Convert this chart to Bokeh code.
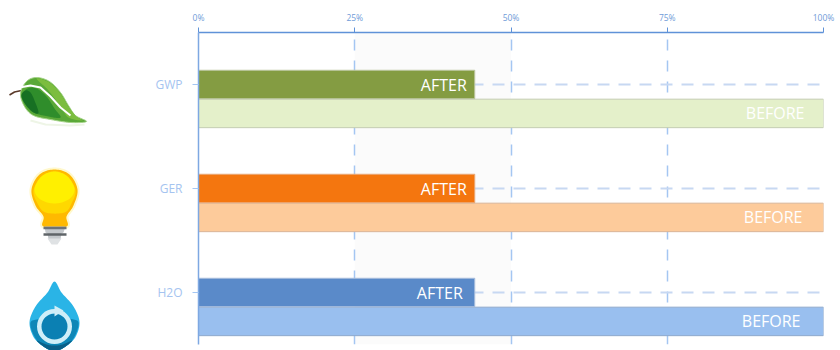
import numpy as np
from bokeh.embed import file_html
from bokeh.layouts import row
from bokeh.models import (BoxAnnotation, ColumnDataSource, FactorRange, FixedTicker,
                          PrintfTickFormatter, Range1d)
from bokeh.plotting import figure
from bokeh.resources import INLINE
from bokeh.transform import dodge
from bokeh.core.properties import value

categories = ["H2O", "GER", "GWP"]
after_values = [44.2, 44.2, 44.2]
before_values = [100, 100, 100]
after_colors = ["#5a8ac9", "#f4760f", "#849c42"]
before_colors = ["#99bfef", "#fdcb9b", "#e4f0ca"]
after_edges = ["#a9bedd", "#e9a878", "#bcc6a0"]
before_edges = ["#8fa9cc", "#d9b598", "#c4ccb2"]
after_label_offsets = [-12, -8, -8]
before_label_offsets = [-23, -21, -19]
tick_values = [0, 25, 50, 75, 100]
grid_values = [25, 50, 75]

AXIS = "#5f92d8"
GRID_V = "#a4c6f2"
GRID_H = "#c7d8f2"


def smooth(points, n=12):
    """Closed Catmull-Rom outline through the key points of an icon."""
    pts = np.array(points, dtype=float)
    m = len(pts)
    out = []
    for i in range(m):
        p0, p1, p2, p3 = pts[(i - 1) % m], pts[i], pts[(i + 1) % m], pts[(i + 2) % m]
        for t in np.linspace(0, 1, n, endpoint=False):
            out.append(0.5 * ((2 * p1) + (p2 - p0) * t + (2 * p0 - 5 * p1 + 4 * p2 - p3) * t ** 2
                              + (3 * p1 - p0 - 3 * p2 + p3) * t ** 3))
    out = np.array(out)
    return out[:, 0], out[:, 1]


# ---------- icon column ----------
icons = figure(width=148, height=350, x_range=Range1d(0, 148), y_range=Range1d(350, 0),
               toolbar_location=None, output_backend="svg", min_border=0,
               outline_line_color=None, x_axis_location=None, y_axis_location=None,
               frame_align=False)
icons.grid.visible = False

# leaf
icons.line([9, 14, 21], [94.5, 91.5, 90], line_color="#5b3a2a", line_width=1.6)
x, y = smooth([(20, 93), (26, 81), (36, 77), (49, 81), (60, 92), (68, 105), (75, 115), (86, 121),
               (70, 122), (50, 119), (33, 115), (24, 106)])
icons.patch(x, y, fill_color="#5aa838", line_color="#a5d488", line_width=1)
x, y = smooth([(21, 95), (27, 88), (36, 88), (46, 96), (54, 108), (60, 117), (48, 116), (33, 112), (25, 104)])
icons.patch(x, y, fill_color="#2a8a2a", line_color=None, alpha=0.9)
x, y = smooth([(21, 95), (25, 90), (30, 92), (34, 100), (38, 112), (33, 112), (25, 104)])
icons.patch(x, y, fill_color="#156d22", line_color=None, alpha=0.9)
x, y = smooth([(36, 78), (49, 82), (60, 93), (68, 106), (76, 116), (82, 120), (68, 117), (60, 106), (48, 90)])
icons.patch(x, y, fill_color="#7cbd3f", line_color=None)
icons.line([19, 30, 40, 50, 60, 70], [87, 85, 87, 96, 107, 115], line_color="#ffffff", line_width=2)
icons.line([30, 45, 70, 84], [120, 124, 125, 124], line_color="#eef5e6", line_width=2)

# bulb
bx, by = smooth([(54, 169), (69, 174), (77, 189), (73, 205), (66, 216), (66, 226), (43, 226), (43, 216),
                 (35, 205), (31, 189), (39, 174)])
icons.patch(bx, by, fill_color="#fff5b0", line_color="#fff8cc", line_width=4)
icons.patch(bx, by, fill_color="#ffb900", line_color=None)
x, y = smooth([(54, 171), (67, 176), (75, 190), (71, 203), (64, 212), (45, 212), (37, 203), (33, 190), (41, 176)])
icons.patch(x, y, fill_color="#ffd800", line_color=None)
x, y = smooth([(54, 171), (67, 176), (74, 189), (68, 199), (54, 203), (40, 199), (34, 189), (41, 176)])
icons.patch(x, y, fill_color="#fff000", line_color=None)
icons.patch([44, 65, 63, 61, 60, 48, 47, 45],
            [226, 226, 232, 233, 239, 239, 233, 232], fill_color="#c4c8cc", line_color=None)
icons.line([43, 66], [227.5, 227.5], line_color="#6d7276", line_width=2.5)
icons.line([43, 66], [234, 234], line_color="#5f6468", line_width=2.5)
icons.patch([47, 61, 57, 51], [238, 238, 244, 244], fill_color="#dfe2e4", line_color=None)

# water drop
dx, dy = smooth([(54, 281), (61, 292), (73, 306), (79, 322), (74, 338), (62, 348), (54, 350), (46, 348),
                 (34, 338), (29, 322), (35, 306), (47, 292)])
icons.patch(dx, dy, fill_color="#2ab4e6", line_color=None)
x, y = smooth([(30, 322), (42, 318), (54, 316), (68, 318), (78, 322), (73, 338), (62, 348), (54, 350),
               (46, 348), (35, 338)])
icons.patch(x, y, fill_color="#0e87b7", line_color=None)
x, y = smooth([(36, 340), (46, 344), (54, 345), (62, 344), (72, 340), (62, 348), (54, 350), (46, 348)])
icons.patch(x, y, fill_color="#0a5f88", line_color=None)
icons.circle([54], [326], radius=13, fill_color="#0b80b3", line_color=None)
icons.annulus([54], [326], inner_radius=13, outer_radius=17.5, fill_color="#cfeef8", line_color=None)
icons.patch([54, 63, 54], [305, 310, 316], fill_color="#cfeef8", line_color=None)

# ---------- chart ----------
p = figure(width=692, height=350, x_range=Range1d(0, 100), y_range=FactorRange(factors=categories),
           x_axis_location="above", toolbar_location=None, output_backend="svg",
           min_border_left=50, min_border_right=17, min_border_top=32, min_border_bottom=6,
           outline_line_color=None, frame_align=False)
p.add_layout(BoxAnnotation(left=25, right=50, fill_color="#fbfbfb", fill_alpha=1,
                           line_color=None, level="image"))

p.xaxis.ticker = FixedTicker(ticks=tick_values)
p.xaxis.formatter = PrintfTickFormatter(format="%d%%")
p.xaxis.major_label_text_font = "Open Sans"
p.xaxis.major_label_text_font_size = "8.5px"
p.xaxis.major_label_text_color = "#6f9bd8"
p.xaxis.major_label_standoff = 5
p.xaxis.axis_line_color = AXIS
p.xaxis.axis_line_width = 1.5
p.xaxis.major_tick_line_color = AXIS
p.xaxis.major_tick_out = 5
p.xaxis.major_tick_in = 0
p.xaxis.minor_tick_line_color = None

p.yaxis.major_label_text_font = "Open Sans"
p.yaxis.major_label_text_font_size = "12px"
p.yaxis.major_label_text_color = "#a5c4f0"
p.yaxis.major_label_standoff = 10
p.yaxis.axis_line_color = "#7ea8e2"
p.yaxis.axis_line_width = 1.5
p.yaxis.major_tick_line_color = GRID_V
p.yaxis.major_tick_out = 6
p.yaxis.major_tick_in = 0
p.yaxis.minor_tick_line_color = None

p.xgrid.ticker = FixedTicker(ticks=grid_values)
p.xgrid.grid_line_color = GRID_V
p.xgrid.grid_line_width = 1.5
p.xgrid.grid_line_dash = "11 10"
p.ygrid.grid_line_color = GRID_H
p.ygrid.grid_line_width = 2
p.ygrid.grid_line_dash = "12 9"

source = ColumnDataSource(dict(cat=categories, after=after_values, before=before_values,
                               after_color=after_colors, before_color=before_colors,
                               after_edge=after_edges, before_edge=before_edges,
                               after_text=["AFTER"] * 3, before_text=["BEFORE"] * 3,
                               after_off=after_label_offsets, before_off=before_label_offsets))
after_y = dodge("cat", 0.0, range=p.y_range)
before_y = dodge("cat", -0.278, range=p.y_range)
p.hbar(y=before_y, right="before", left=0, height=0.274, source=source,
       fill_color="before_color", line_color="before_edge", line_width=1)
p.hbar(y=after_y, right="after", left=0, height=0.274, source=source,
       fill_color="after_color", line_color="after_edge", line_width=1)
p.text(x="after", y=after_y, text="after_text", x_offset="after_off", source=source,
       text_align="right", text_baseline="middle", text_color="#ffffff",
       text_font=value("Open Sans"), text_font_size="16px")
p.text(x="before", y=before_y, text="before_text", x_offset="before_off", source=source,
       text_align="right", text_baseline="middle", text_color="#ffffff",
       text_font=value("Open Sans"), text_font_size="16px")

page = row(icons, p, spacing=0)
open("out.html", "w").write(file_html(page, INLINE))
